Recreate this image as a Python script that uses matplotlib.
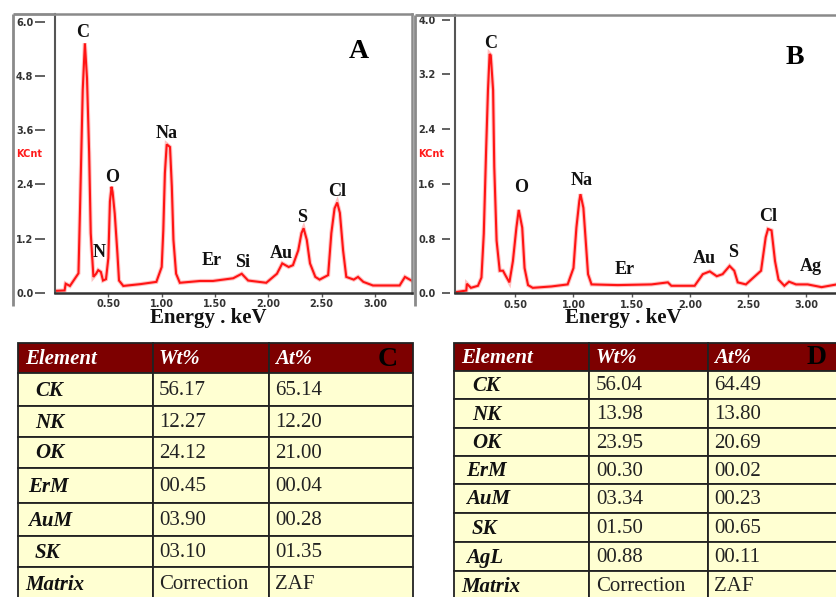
import matplotlib.pyplot as plt
from matplotlib.lines import Line2D
from matplotlib.patches import Rectangle

W, H = 837, 597
SERIF = "Liberation Serif"

# ---- spectrum A (keV, KCnt) ----
energy_a = [0.0, 0.09, 0.10, 0.14, 0.22, 0.235, 0.26, 0.28, 0.30, 0.32, 0.335, 0.36, 0.385, 0.405,
            0.43, 0.45, 0.478, 0.50, 0.515, 0.53, 0.54, 0.56, 0.585, 0.60, 0.64, 0.80, 0.95, 1.0,
            1.015, 1.03, 1.047, 1.078, 1.095, 1.11, 1.135, 1.17, 1.36, 1.48, 1.67, 1.75, 1.81, 1.98,
            2.08, 2.13, 2.19, 2.23, 2.28, 2.31, 2.33, 2.36, 2.39, 2.44, 2.48, 2.56, 2.59, 2.62,
            2.645, 2.67, 2.70, 2.73, 2.80, 2.84, 2.89, 2.98, 3.23, 3.28, 3.34]
counts_a = [0.04, 0.05, 0.20, 0.15, 0.43, 1.90, 4.50, 5.53, 4.75, 3.10, 1.32, 0.35, 0.42, 0.50,
            0.46, 0.27, 0.30, 0.77, 2.02, 2.35, 2.23, 1.75, 0.87, 0.27, 0.15, 0.19, 0.24, 0.57,
            1.38, 2.65, 3.29, 3.23, 2.35, 1.17, 0.42, 0.22, 0.26, 0.26, 0.32, 0.42, 0.27, 0.22,
            0.42, 0.65, 0.57, 0.61, 0.94, 1.32, 1.43, 1.17, 0.65, 0.35, 0.29, 0.39, 1.32, 1.87,
            2.00, 1.77, 0.94, 0.35, 0.29, 0.35, 0.24, 0.16, 0.16, 0.35, 0.27]
peaks_a = ["C", "N", "O", "Na", "Er", "Si", "Au", "S", "Cl"]
peak_e_a = [0.262, 0.412, 0.534, 1.05, 1.472, 1.762, 2.118, 2.315, 2.643]
peak_c_a = [5.76, 0.90, 2.56, 3.52, 0.72, 0.68, 0.86, 1.66, 2.25]

# ---- spectrum B ----
energy_b = [0.0, 0.08, 0.085, 0.12, 0.18, 0.21, 0.23, 0.25, 0.266, 0.28, 0.29, 0.31, 0.32, 0.34,
            0.367, 0.395, 0.42, 0.45, 0.48, 0.51, 0.53, 0.56, 0.58, 0.61, 0.65, 0.81, 0.95, 1.0,
            1.025, 1.05, 1.06, 1.085, 1.105, 1.125, 1.155, 1.38, 1.67, 1.81, 1.84, 2.04, 2.11,
            2.17, 2.23, 2.28, 2.34, 2.38, 2.41, 2.48, 2.61, 2.65, 2.67, 2.70, 2.73, 2.76, 2.81,
            2.85, 2.91, 3.01, 3.13, 3.26]
counts_b = [0.02, 0.04, 0.14, 0.08, 0.11, 0.23, 0.87, 2.09, 2.97, 3.50, 3.48, 2.97, 1.85, 0.77,
            0.33, 0.33, 0.25, 0.16, 0.47, 0.96, 1.22, 0.96, 0.37, 0.12, 0.08, 0.10, 0.13, 0.37,
            0.96, 1.35, 1.45, 1.25, 0.77, 0.28, 0.13, 0.12, 0.13, 0.16, 0.11, 0.11, 0.28, 0.32,
            0.25, 0.28, 0.40, 0.33, 0.16, 0.13, 0.33, 0.82, 0.94, 0.92, 0.47, 0.20, 0.11, 0.17,
            0.13, 0.13, 0.09, 0.13]
peaks_b = ["C", "O", "Na", "Er", "Au", "S", "Cl", "Ag"]
peak_e_b = [0.286, 0.547, 1.073, 1.44, 2.12, 2.37, 2.675, 3.036]
peak_c_b = [3.66, 1.55, 1.65, 0.35, 0.51, 0.59, 1.12, 0.39]

x_ticks = [0.5, 1.0, 1.5, 2.0, 2.5, 3.0]
y_ticks_a = [0.0, 1.2, 2.4, 3.6, 4.8, 6.0]
y_ticks_b = [0.0, 0.8, 1.6, 2.4, 3.2, 4.0]

# ---- tables ----
header = ["Element", "Wt%", "At%"]
elements_c = ["CK", "NK", "OK", "ErM", "AuM", "SK", "Matrix"]
wt_c = ["56.17", "12.27", "24.12", "00.45", "03.90", "03.10", "Correction"]
at_c = ["65.14", "12.20", "21.00", "00.04", "00.28", "01.35", "ZAF"]
elements_d = ["CK", "NK", "OK", "ErM", "AuM", "SK", "AgL", "Matrix"]
wt_d = ["56.04", "13.98", "23.95", "00.30", "03.34", "01.50", "00.88", "Correction"]
at_d = ["64.49", "13.80", "20.69", "00.02", "00.23", "00.65", "00.11", "ZAF"]


def px_axes(fig, left, top, right, bottom):
    return fig.add_axes([left / W, 1 - bottom / H, (right - left) / W, (bottom - top) / H])


def draw_spectrum(ax, energy, counts, xlim, ylim, yticks, names, pe, pc, outward, ticklen, pad):
    # soft halo under the trace, like the blurred screenshot
    ax.plot(energy, counts, color="#ff9a9a", lw=3.0, alpha=0.6, solid_joinstyle="miter")
    ax.plot(energy, counts, color="#ff1414", lw=1.5, solid_joinstyle="miter")
    ax.set_xlim(*xlim)
    ax.set_ylim(*ylim)
    ax.spines["left"].set_position(("outward", outward))
    ax.spines["left"].set_visible(False)
    for s in ["top", "right"]:
        ax.spines[s].set_color("#8a8a8a")
        ax.spines[s].set_linewidth(1.8)
    ax.spines["bottom"].set_color("#333333")
    ax.spines["bottom"].set_linewidth(1.8)
    ax.plot([0, 0], [0, 1], transform=ax.transAxes, color="#555555", lw=1.5, clip_on=False)
    ax.set_xticks(x_ticks)
    ax.set_xticklabels([f"{v:.2f}" for v in x_ticks])
    ax.set_yticks(yticks)
    ax.set_yticklabels([f"{v:.1f}" for v in yticks])
    ax.tick_params(axis="y", length=ticklen, width=1.3, color="#555555", pad=pad)
    ax.tick_params(axis="x", length=3, width=1.0, color="#555555", pad=1.5)
    for lab in ax.get_xticklabels() + ax.get_yticklabels():
        lab.set_fontsize(7)
        lab.set_fontweight("bold")
        lab.set_color("#333333")
    for n, e, c in zip(names, pe, pc):
        ax.text(e, c, n, ha="center", va="center", family=SERIF, fontweight="bold",
                fontsize=13, color="#111111")


fig = plt.figure(figsize=(W / 100, H / 100), dpi=100)

ax_a = px_axes(fig, 55, 14, 412, 292.7)
draw_spectrum(ax_a, energy_a, counts_a, (0, 3.346), (0, 6.18), y_ticks_a,
              peaks_a, peak_e_a, peak_c_a, outward=7.5, ticklen=7.5, pad=0.5)

ax_b = px_axes(fig, 455, 15, 837, 293.3)
draw_spectrum(ax_b, energy_b, counts_b, (-0.017, 3.262), (0, 4.07), y_ticks_b,
              peaks_b, peak_e_b, peak_c_b, outward=3.5, ticklen=6, pad=4.5)
ax_b.spines["right"].set_visible(False)

# overlay in pixel coordinates for frames, labels and tables
ov = fig.add_axes([0, 0, 1, 1], facecolor="none")
ov.set_xlim(0, W)
ov.set_ylim(H, 0)
ov.axis("off")

frame = dict(color="#8a8a8a", lw=2.0, solid_capstyle="butt")
ov.add_line(Line2D([13, 13], [14, 306], **frame))
ov.add_line(Line2D([13, 55], [14, 14], **frame))
ov.add_line(Line2D([415, 415], [15, 306], **frame))
ov.add_line(Line2D([415, 455], [15, 15], **frame))

for x, y in [(16, 154), (418, 154)]:
    ov.text(x, y, "KCnt", color="#ff1a1a", fontsize=7, fontweight="bold", ha="left", va="center")
for x, y in [(208, 318), (623, 318)]:
    ov.text(x, y, "Energy . keV", family=SERIF, fontweight="bold", fontsize=15,
            ha="center", va="center", color="#111111")
ov.text(359, 51, "A", family=SERIF, fontweight="bold", fontsize=20, ha="center", va="center")
ov.text(795, 58, "B", family=SERIF, fontweight="bold", fontsize=20, ha="center", va="center")


def draw_table(cols, rows, elements, wt, at, tag, tag_x, name_x, val_x):
    hdr_bg, cell_bg, edge = "#7d0000", "#ffffd2", "#222222"
    for r in range(len(rows) - 1):
        y0, y1 = rows[r], rows[r + 1]
        for c in range(len(cols) - 1):
            x0, x1 = cols[c], cols[c + 1]
            ov.add_patch(Rectangle((x0, y0), x1 - x0, y1 - y0,
                                   facecolor=hdr_bg if r == 0 else cell_bg,
                                   edgecolor=edge, lw=1.3, clip_on=False))
    yc = (rows[0] + rows[1]) / 2 + 1
    ov.text(cols[0] + 7, yc, header[0], family=SERIF, fontweight="bold", style="italic",
            fontsize=15, color="white", va="center")
    ov.text(val_x[0], yc, header[1], family=SERIF, fontweight="bold", style="italic",
            fontsize=15, color="white", va="center")
    ov.text(val_x[1], yc, header[2], family=SERIF, fontweight="bold", style="italic",
            fontsize=15, color="white", va="center")
    ov.text(tag_x, yc, tag, family=SERIF, fontweight="bold", fontsize=20, color="black",
            ha="center", va="center")
    for i, (el, w, a) in enumerate(zip(elements, wt, at)):
        y = (rows[i + 1] + rows[i + 2]) / 2 + 1
        indent = name_x[0] if len(el) == 2 else (name_x[1] if len(el) == 3 else cols[0] + 7)
        ov.text(indent, y, el, family=SERIF, fontweight="bold", style="italic",
                fontsize=15, color="#111111", va="center")
        ov.text(val_x[0], y, w, family=SERIF, fontsize=15, color="#222222", va="center")
        ov.text(val_x[1], y, a, family=SERIF, fontsize=15, color="#222222", va="center")


draw_table([18, 153, 269, 413], [343, 373, 406, 437, 468, 503, 536, 567, 600],
           elements_c, wt_c, at_c, "C", 388, (35, 28), (159, 275))
draw_table([454, 589, 708, 840], [343, 371, 399, 428, 456, 484, 513, 542, 571, 600],
           elements_d, wt_d, at_d, "D", 817, (472, 466), (596, 714))

fig.savefig("out.png", dpi=100)
